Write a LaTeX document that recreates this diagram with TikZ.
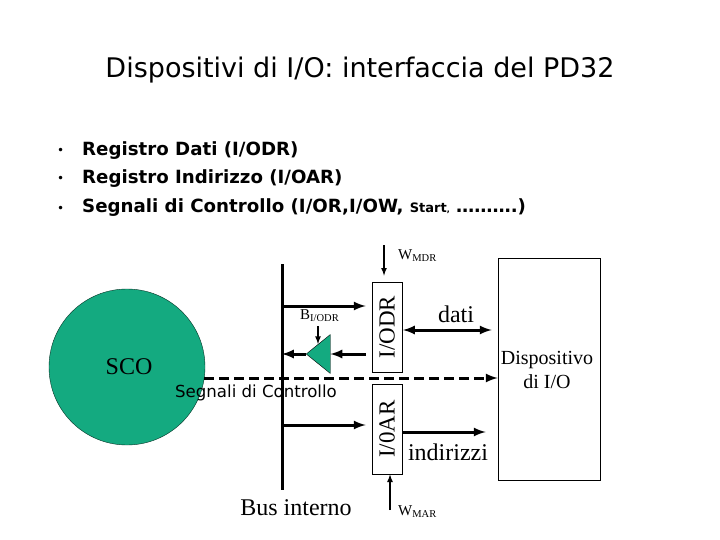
\documentclass[tikz,border=0pt]{standalone}
\usepackage{fontspec}
\usepackage{graphicx}
\usetikzlibrary{shapes.geometric}
\setmainfont{Liberation Serif}
\newfontfamily\comic{DejaVu Sans}
\definecolor{scogreen}{HTML}{14AA80}
\tikzset{
  regbox/.style={draw, line width=0.8pt, minimum width=30pt, minimum height=90pt, inner sep=0pt, font=\fontsize{23}{23}\selectfont},
  bigbus/.style={line width=3pt, -latex},
  wire/.style={line width=1.6pt, -latex},
  roman/.style={inner sep=0pt, font=\fontsize{24}{26}\selectfont},
  wlabel/.style={inner sep=0pt, anchor=west, font=\fontsize{15}{15}\selectfont},
  item/.style={inner sep=0pt, anchor=base west, font=\comic\bfseries\fontsize{18.2}{20}\selectfont},
  dot/.style={inner sep=0pt, anchor=base west, font=\comic\fontsize{12}{12}\selectfont}
}
\begin{document}
\begin{tikzpicture}[x=1pt,y=-1pt]
    \useasboundingbox (0,0) rectangle (720,540);
    \node[inner sep=0pt, font=\comic\fontsize{27}{30}\selectfont] (title) at (360,70) {Dispositivi di I/O: interfaccia del PD32};
    % elenco
    \foreach \n/\y/\s in {a/156/{Registro Dati (I/ODR)},b/184/{Registro Indirizzo (I/OAR)}} {
      \node[dot] (bul\n) at (57,\y-1) {\textbullet};
      \node[item] (item\n) at (82,\y) {\s};
    }
    \node[dot] (bulc) at (57,212) {\textbullet};
    \node[item] (itemc) at (82,213) {Segnali di Controllo (I/OR,I/OW, {\fontsize{13}{13}\selectfont Start}{\fontsize{8}{8}\selectfont,} ……….)};
    % blocchi
    \node[circle, draw=black!70!scogreen, fill=scogreen, minimum size=156pt, inner sep=0pt] (sco) at (127,367) {};
    \node[roman] (scotext) at (129,367) {SCO};
    \node[regbox] (iodr) at (387,327) {\rotatebox{90}{I/ODR}};
    \node[regbox] (ioar) at (387,429) {\rotatebox{90}{I/0AR}};
    \node[draw, line width=0.8pt, minimum width=102pt, minimum height=222pt, inner sep=0pt] (dev) at (549,369) {};
    \node[align=center, inner sep=0pt, font=\fontsize{20}{24}\selectfont] (devtext) at (547,370) {Dispositivo\\di I/O};
    \node[draw, fill=scogreen, isosceles triangle, shape border rotate=180, isosceles triangle apex angle=78, minimum height=24pt, inner sep=0pt] (buf) at (321,354) {};
    % bus
    \coordinate (bustop) at (282,264);
    \coordinate (busbot) at (282,490);
    \draw[line width=3pt] (bustop) -- (busbot);
    \coordinate (in1) at (282,306);
    \coordinate (out1) at (282,354);
    \coordinate (in2) at (282,425);
    \draw[bigbus, shorten >=6pt] (in1) -- (in1 -| iodr.west);
    \draw[bigbus, shorten >=6pt] (in2) -- (in2 -| ioar.west);
    \draw[bigbus, shorten <=6pt] (out1 -| iodr.west) -- (buf.east);
    \draw[bigbus] (buf.west) -- (out1);
    % dati, indirizzi
    \coordinate (d1) at (403,330);
    \coordinate (a1) at (402,432);
    \coordinate (c1) at (204,378);
    \draw[line width=3pt, latex-latex, shorten >=6pt] (d1) -- (d1 -| dev.west);
    \draw[bigbus, shorten >=12pt] (a1) -- (a1 -| dev.west);
    \draw[bigbus, dash pattern=on 10pt off 5pt] (c1) -- (c1 -| dev.west);
    % segnali
    \coordinate (wmdr) at (384,245);
    \coordinate (wmar) at (390,510);
    \coordinate (bodr) at (318,326);
    \draw[wire, shorten >=6pt] (wmdr) -- (wmdr |- iodr.north);
    \draw[wire] (wmar) -- (wmar |- ioar.south);
    \draw[wire] (bodr) -- (318,344);
    \node[wlabel] (wmdrlab) at (398,256) {W\textsubscript{MDR}};
    \node[wlabel] (wmarlab) at (398,512) {W\textsubscript{MAR}};
    \node[wlabel] (bodrlab) at (300,316) {B\textsubscript{I/ODR}};
    \node[roman] (dati) at (456,314) {dati};
    \node[roman] (indirizzi) at (448,452) {indirizzi};
    \node[roman] (bus) at (296,508) {Bus interno};
    \node[inner sep=0pt, font=\comic\fontsize{16.6}{18}\selectfont] (ctl) at (256,393) {Segnali di Controllo};
\end{tikzpicture}
\end{document}
